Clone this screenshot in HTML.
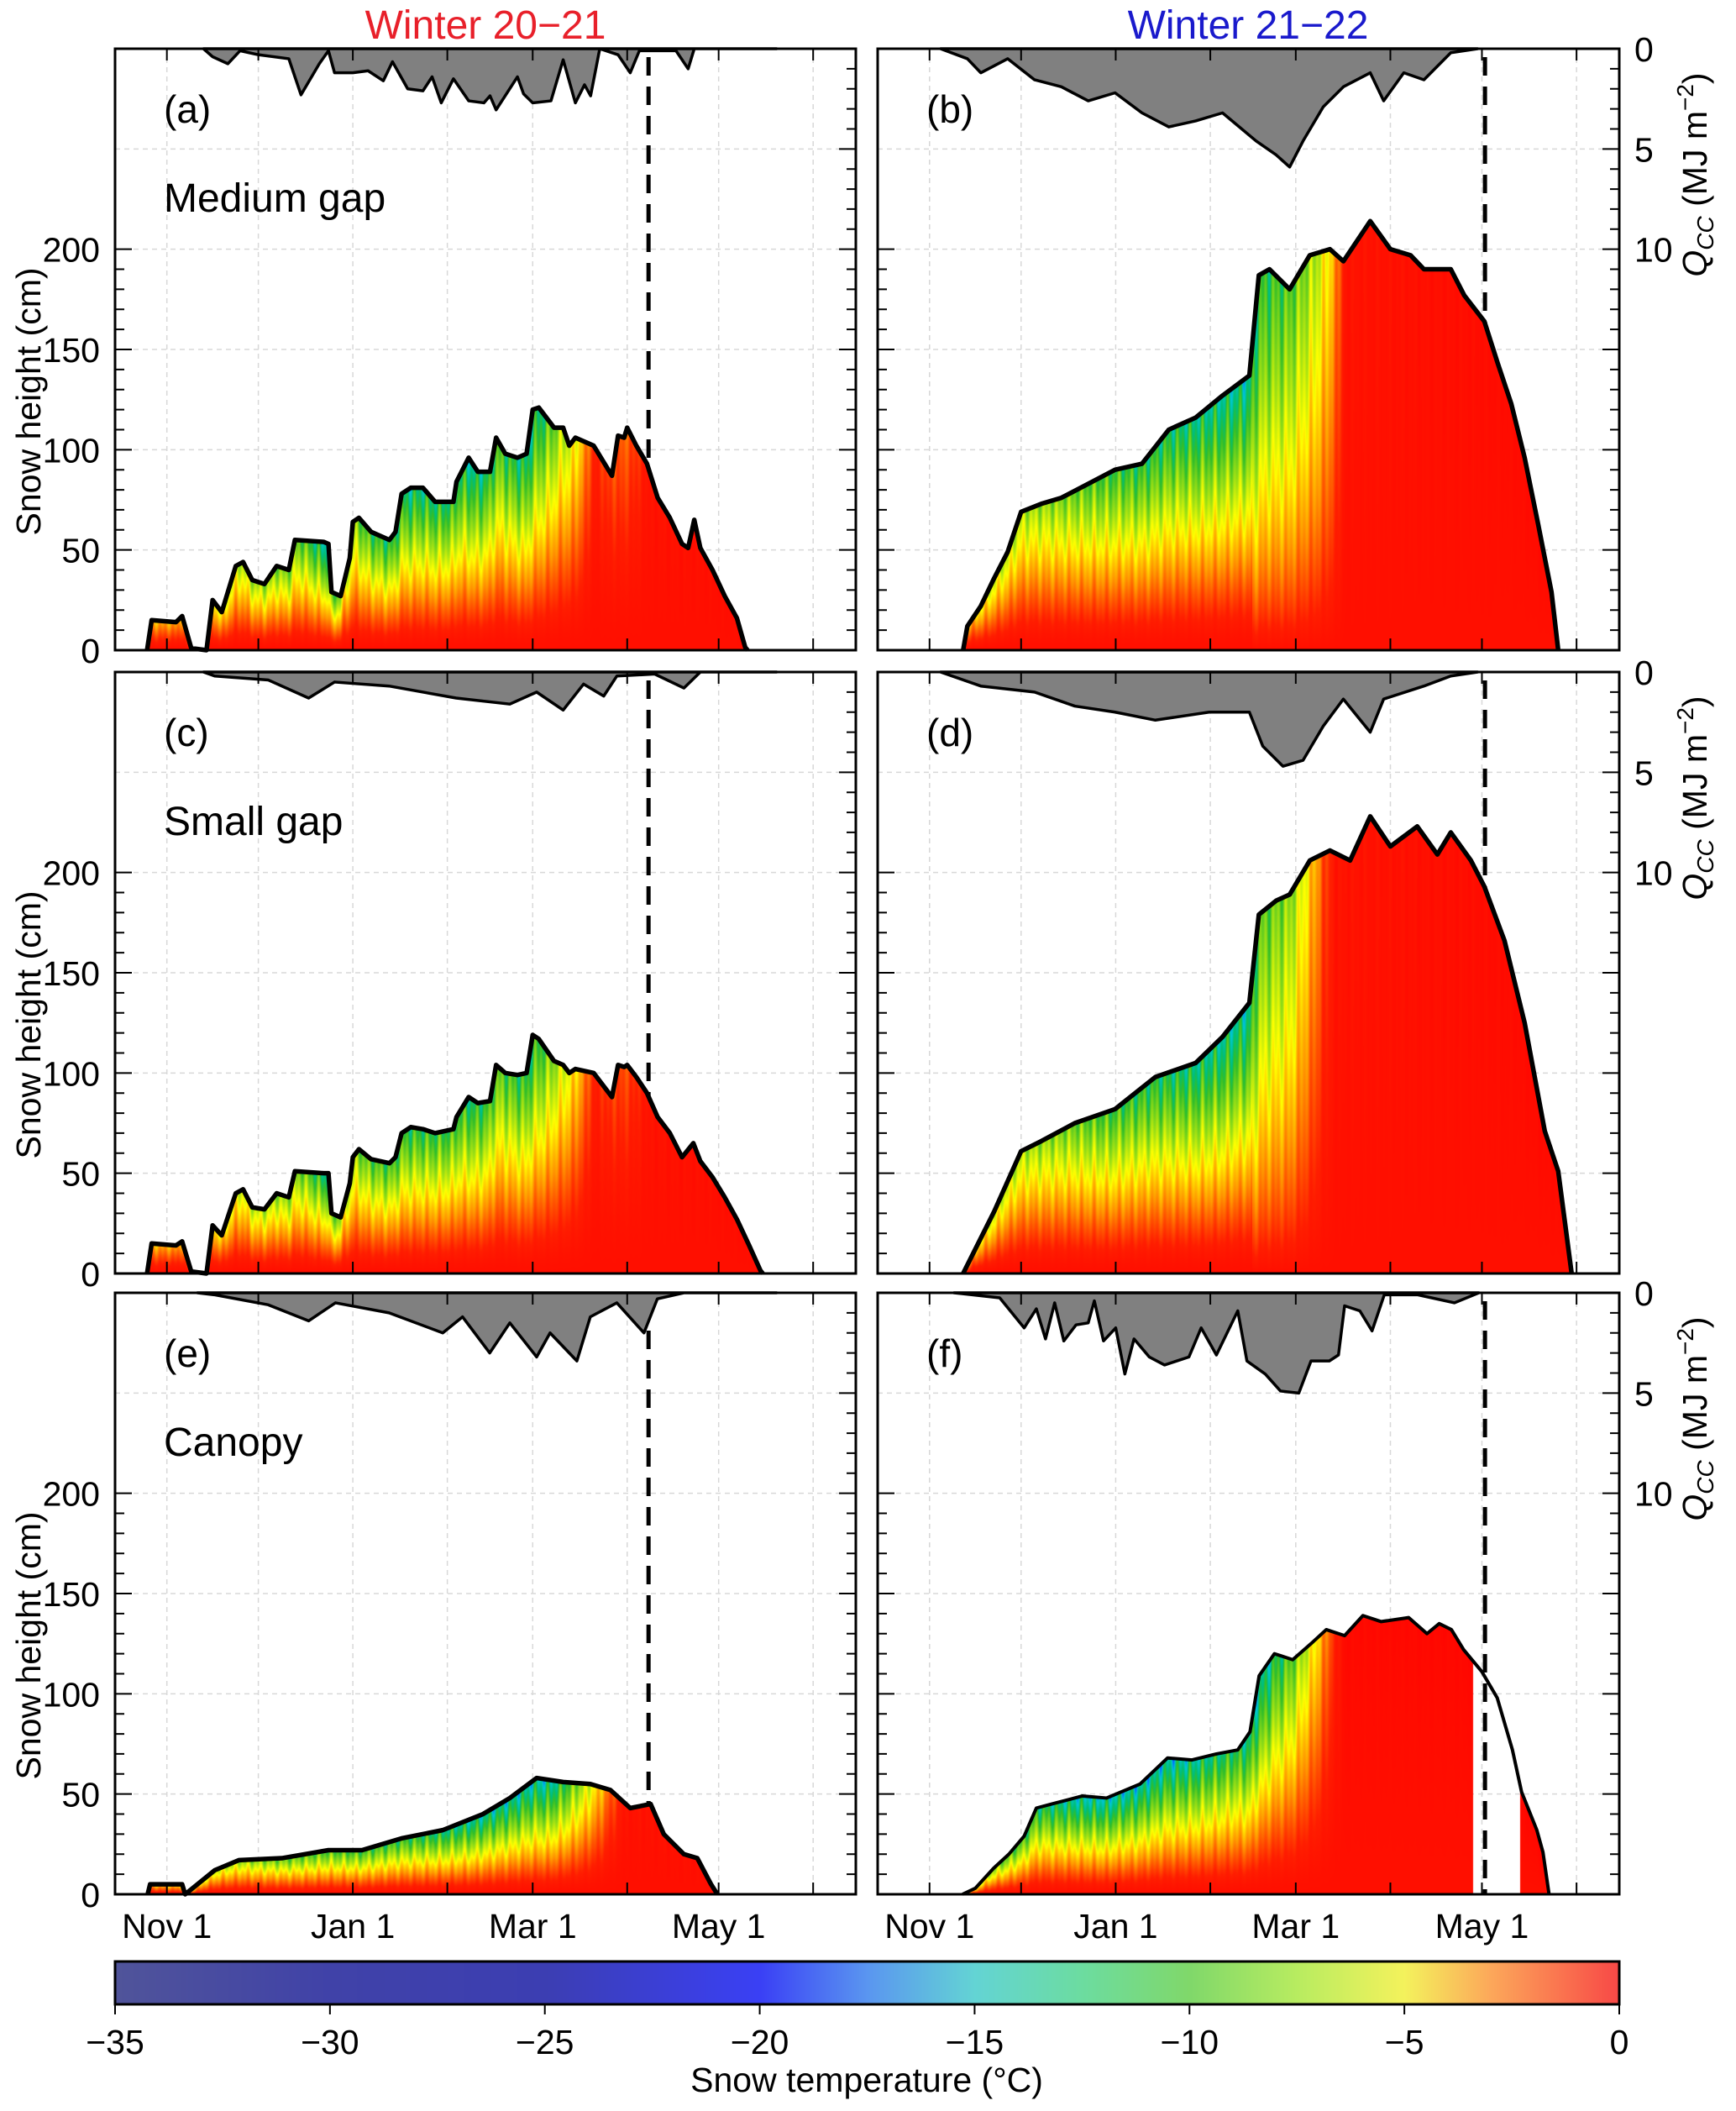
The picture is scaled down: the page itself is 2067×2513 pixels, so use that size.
<!DOCTYPE html>
<html><head><meta charset="utf-8">
<style>
html,body{margin:0;padding:0;background:#fff;}
#root{position:relative;width:2067px;height:2513px;overflow:hidden;font-family:"Liberation Sans",sans-serif;}
svg,canvas{position:absolute;left:0;top:0;}
</style></head>
<body>
<div id="root">
<svg id="under" width="2067" height="2513"></svg>
<canvas id="cv" width="2067" height="2513"></canvas>
<svg id="over" width="2067" height="2513"></svg>
</div>
<script>
// ---------- DATA ----------
const snowDaysA=[-6.5,-5,3,5,8,13,15,18,22.6,25,28,32,36,40,42,51.5,53,54,57,60,61,63,67,73,75,77,80,84,88,94,95,99,102,106,108,111,115,118,120,122,127,130,132,134,140,146,148,150,151,154,157.5,161,165,169,171,173,175,179,183,187,189.7,190.5];
const snowHA=[0,15,14,17,1,0,25,19,42,44,35,33,42,40,55,54,53,29,27,46,64,66,59,55,59,78,81,81,74,74,84,96,89,89,106,98,96,98,120,121,111,111,102,106,102,87,107,106,111,102,93,76,66,53,51,65,51,40,27,16,1.5,0];
const qDaysA=[12,15,20,24,30,40,44,50,53,55,61,66,71,74,79,84,87,90,94,99,104,106,108,115,117,120,126,130,134,137,139,142,148,152,155,167,171,173,200];
const qA=[0,0.4,0.75,0.1,0.3,0.5,2.3,0.75,0.1,1.2,1.2,1.1,1.6,0.65,2.0,2.1,1.4,2.7,1.5,2.6,2.7,2.35,3.05,1.4,2.25,2.7,2.6,0.55,2.7,1.8,2.35,0,0.3,1.2,0.1,0.1,1.0,0,0];
const tDaysA=[-6,10,20,45,52,58,65,80,95,100,110,120,128,135,140,150,158,200];
const tSurfA=[-5,-4,-8,-12,-18,-8,-13,-16,-14,-17,-13,-17,-10,-6,-1.5,-3,-1,-0.5];

const snowDaysB=[11,12.4,16.8,21.2,25.6,30,36.6,43.2,52,60.8,69.6,78.4,87.2,96,104.8,107.9,111.4,118,124.6,131.2,135.6,144.4,151,157.6,162,170.8,175.2,181.8,186.2,190.6,195,199.4,203.8,206];
const snowHB=[0,12,22,36,49,69,73,76,83,90,93,110,116,127,137,187,190,180,197,200,194,214,200,197,190,190,177,164,143,123,96,63,29,0];
const qDaysB=[3.6,12.4,16.8,25.6,34.4,43.2,52,60.8,69.6,78.4,87.2,96,107,113.6,118,122.4,129,135.6,144.4,148.8,155.4,162,170.8,179.6];
const qB=[0,0.5,1.2,0.5,1.55,1.9,2.6,2.2,3.2,3.9,3.6,3.2,4.6,5.3,5.9,4.6,2.9,1.9,1.2,2.6,1.2,1.55,0.2,0];
const tDaysB=[11,20,40,60,90,105,108,118,126,132,136,200];
const tSurfB=[-4,-8,-10,-13,-16,-17,-14,-12,-9,-5,-1,-0.5];

const snowDaysC=[-6.5,-5,3,5,8,13,15,18,22.6,25,28,32,36,40,42,51.5,53,54,57,60,61,63,67,73,75,77,80,84,88,94,95,99,102,106,108,111,115,118,120,122,127,130,132,134,140,146,148,150,151,154,157.5,161,165,169,172.7,175,179,183,187,191,194.7,195.5];
const snowHC=[0,15,14,16,1,0,24,19,40,42,33,32,40,38,51,50,50,30,28,45,58,62,57,55,58,70,73,72,70,72,78,88,85,86,104,100,99,100,119,117,106,104,100,102,100,88,104,103,104,98,90,78,70,58,65,56,48,38,27,14,1.5,0];
const qDaysC=[12,15.7,33.3,46.5,55,72.9,94.9,112.5,121.3,130,136.7,143.3,147.6,160,169.6,175,200];
const qC=[0,0.2,0.4,1.3,0.5,0.7,1.3,1.6,1.0,1.9,0.6,1.2,0.2,0.1,0.8,0,0];
const tDaysC=[-6,10,20,45,52,58,65,80,95,100,110,120,128,135,140,150,158,200];
const tSurfC=[-5,-4,-7,-11,-16,-8,-12,-14,-13,-15,-12,-15,-9,-5,-1.5,-2.5,-1,-0.5];

const snowDaysD=[11,21.2,30,36.6,47.6,60.8,74,87.2,96,104.8,107.9,113.6,118,124.6,131.2,137.8,144.4,151,159.8,166.4,170.8,177.4,181.8,188.4,195,201.6,206,210.4];
const snowHD=[0,31,61,66,75,82,98,105,118,135,179,186,189,206,211,206,228,213,223,209,220,206,193,166,125,71,51,0];
const qDaysD=[3.6,16.8,34.4,47.6,60.8,74,91.6,104.8,109.2,115.8,122.4,129,135.6,144.4,148.8,162,170.8,179.6];
const qD=[0,0.7,1,1.7,2,2.4,2,2,3.7,4.7,4.4,2.7,1.35,3.0,1.35,0.7,0.2,0];
const tDaysD=[11,20,40,60,90,105,108,118,124,129,133,200];
const tSurfD=[-4,-8,-10,-13,-16,-17,-12,-10,-6,-2.5,-1,-0.5];

const snowDaysE=[-6.3,-5.5,5,6,15.7,23.6,37.7,53,64,77.3,90.5,103.7,112.5,121.3,130,138.9,145.5,152,158.7,163,169.6,174,178.5,180.6];
const snowHE=[0,5,5,0,12,17,18,22,22,28,32,40,48,58,56,55,52,43,45,30,20,18,5,0];
const qDaysE=[10,15.7,33.3,46.5,55.3,72.9,90.5,97,105.9,112.5,121.3,125.7,134.5,138.9,147.6,156.5,160.9,169.6,200];
const qE=[0,0.1,0.6,1.4,0.5,1.0,2.0,1.2,3.0,1.5,3.2,2.0,3.4,1.2,0.5,2.0,0.3,0,0];
const tDaysE=[-6,15,40,80,100,125,135,145,150,200];
const tSurfE=[-5,-8,-12,-14,-17,-18,-10,-3,-1,-0.5];

const snowDaysF=[10.8,15,21,26,31,35,40,50,58,69,78,86,94,101,105,108,113,119,125,130,136,142,148,157,163,167,171,175,181,186,191,194,199,201,203];
const snowHF=[0,3,13,20,29,43,45,49,48,55,68,67,70,72,81,109,120,117,125,132,129,139,136,138,130,135,132,122,111,98,72,51,32,21,0];
const qDaysF=[8,23,31,35,38,41,44,48,52,54,57,61,64,67,72,77,85,89,94,101,104,110,115,121,125,131,134,136,141,145,149,160,172,180];
const qF=[0,0.25,1.75,0.8,2.3,0.5,2.4,1.6,1.5,0.4,2.4,1.75,4.05,2.3,3.2,3.6,3.2,1.75,3.1,0.9,3.4,4.05,4.9,5.0,3.4,3.4,3.1,0.65,0.9,1.9,0.1,0.1,0.5,0];
const tDaysF=[10,25,50,80,100,108,118,125,132,136,210];
const tSurfF=[-5,-12,-18,-18,-14,-18,-12,-7,-2,-0.5,-0.3];
const gapF=[178,193.5];

const monthDays=[0,30,61,92,120,151,181,212];
const monthLabels=["Nov 1","","Jan 1","","Mar 1","","May 1",""];
const cbTicks=[-35,-30,-25,-20,-15,-10,-5,0];

// ---------- LAYOUT ----------
const NS="http://www.w3.org/2000/svg";
const colsX=[137,1045], plotW=[882,883];
const rowsY=[58,800,1539], plotH=716;
const D0=-17, D1=226, CMMAX=300;
const panels=[
 {id:"a",c:0,r:0,sd:snowDaysA,sh:snowHA,qd:qDaysA,q:qA,td:tDaysA,ts:tSurfA,dash:158,name:"Medium gap"},
 {id:"b",c:1,r:0,sd:snowDaysB,sh:snowHB,qd:qDaysB,q:qB,td:tDaysB,ts:tSurfB,dash:182},
 {id:"c",c:0,r:1,sd:snowDaysC,sh:snowHC,qd:qDaysC,q:qC,td:tDaysC,ts:tSurfC,dash:158,name:"Small gap"},
 {id:"d",c:1,r:1,sd:snowDaysD,sh:snowHD,qd:qDaysD,q:qD,td:tDaysD,ts:tSurfD,dash:182},
 {id:"e",c:0,r:2,sd:snowDaysE,sh:snowHE,qd:qDaysE,q:qE,td:tDaysE,ts:tSurfE,dash:158,name:"Canopy"},
 {id:"f",c:1,r:2,sd:snowDaysF,sh:snowHF,qd:qDaysF,q:qF,td:tDaysF,ts:tSurfF,dash:182,gap:gapF}
];
function xS(p,d){return colsX[p.c]+(d-D0)/(D1-D0)*plotW[p.c];}
function dInv(p,x){return D0+(x-colsX[p.c])/plotW[p.c]*(D1-D0);}
function yS(p,cm){return rowsY[p.r]+plotH-cm/CMMAX*plotH;}
function yQ(p,mj){return rowsY[p.r]+mj*(plotH*100/CMMAX)/10;}
function interp(xs,ys,x){if(x<=xs[0])return x<xs[0]?null:ys[0];if(x>=xs[xs.length-1])return x>xs[xs.length-1]?null:ys[ys.length-1];
 for(let i=1;i<xs.length;i++){if(x<=xs[i]){const t=(x-xs[i-1])/(xs[i]-xs[i-1]);return ys[i-1]+t*(ys[i]-ys[i-1]);}}return null;}
function interpC(xs,ys,x){if(x<=xs[0])return ys[0];if(x>=xs[xs.length-1])return ys[ys.length-1];return interp(xs,ys,x);}

const under=document.getElementById("under"), over=document.getElementById("over");
function mk(parent,tag,attrs,txt){const e=document.createElementNS(NS,tag);for(const k in attrs)e.setAttribute(k,attrs[k]);if(txt!==undefined)e.textContent=txt;parent.appendChild(e);return e;}

// ---------- colormaps ----------
const plotStops=[[-35,[60,60,150]],[-25,[30,30,200]],[-20,[0,0,255]],[-17,[0,110,255]],[-15,[0,200,210]],[-12,[0,190,120]],[-10,[50,190,40]],[-7,[160,225,20]],[-5,[255,255,0]],[-3,[255,150,0]],[-1.2,[255,30,0]],[0,[255,0,0]]];
const cbStops=[[-35,[80,84,154]],[-30,[64,66,168]],[-25,[60,62,178]],[-20,[58,64,245]],[-17.5,[90,150,240]],[-15,[99,212,212]],[-12.5,[108,220,160]],[-10,[128,216,106]],[-7.5,[184,236,96]],[-5,[244,242,92]],[-3,[252,168,90]],[0,[248,72,70]]];
function cmap(st,t){if(t<=st[0][0])return st[0][1];if(t>=st[st.length-1][0])return st[st.length-1][1];
 for(let i=1;i<st.length;i++){if(t<=st[i][0]){const a=st[i-1],b=st[i],f=(t-a[0])/(b[0]-a[0]);return [0,1,2].map(k=>Math.round(a[1][k]+f*(b[1][k]-a[1][k])));}}}

// ---------- under layer: grid + dashed ----------
panels.forEach(p=>{
 const g=mk(under,"g",{});
 
 
 const x0=colsX[p.c],x1=x0+plotW[p.c],y0=rowsY[p.r],y1=y0+plotH;
 monthDays.forEach(d=>{const x=xS(p,d);const l=mk(g,"line",{x1:x,x2:x,y1:y0,y2:y1,stroke:"#d8d8d8","stroke-width":1.5,"stroke-dasharray":"6,5"});
  });
 [50,100,150,200,250].forEach(cm=>{const y=yS(p,cm);const l=mk(g,"line",{x1:x0,x2:x1,y1:y,y2:y,stroke:"#d8d8d8","stroke-width":1.5,"stroke-dasharray":"6,5"});
  });
 const xd=xS(p,p.dash);
 const dl=mk(g,"line",{x1:xd,x2:xd,y1:y0+10,y2:y1,stroke:"#000","stroke-width":5,"stroke-dasharray":"22,13"});
 
});

// ---------- canvas field ----------
const cv=document.getElementById("cv"),ctx=cv.getContext("2d");
const img=ctx.createImageData(2067,2513),px=img.data;
panels.forEach(p=>{
 const x0=Math.round(colsX[p.c]),x1=Math.round(colsX[p.c]+plotW[p.c]);
 const base=rowsY[p.r]+plotH;
 for(let x=x0;x<x1;x++){
  const d=dInv(p,x+0.5);
  if(p.gap&&d>=p.gap[0]&&d<=p.gap[1])continue;
  const h=interp(p.sd,p.sh,d);if(h===null||h<=0)continue;
  let ts=interpC(p.td,p.ts,d);
  const tex=0.78+0.22*Math.sin(d*2.3)*Math.sin(d*0.71+1);
  ts*=tex;
  const yTop=yS(p,h);
  const pw=h>150?1.0:1.5;
  for(let y=Math.ceil(yTop);y<base;y++){
   const r=(base-y)/(base-yTop);
   const T=-0.6+(ts+0.6)*Math.pow(r,pw);
   const c=cmap(plotStops,T);
   const i=(y*2067+x)*4;px[i]=c[0];px[i+1]=c[1];px[i+2]=c[2];px[i+3]=255;
  }
 }
});
// colorbar
const cbX0=137,cbX1=1928,cbY0=2335,cbY1=2386;
for(let x=cbX0;x<cbX1;x++){const T=-35+(x-cbX0)/(cbX1-cbX0)*35;const c=cmap(cbStops,T);
 for(let y=cbY0;y<cbY1;y++){const i=(y*2067+x)*4;px[i]=c[0];px[i+1]=c[1];px[i+2]=c[2];px[i+3]=255;}}
ctx.putImageData(img,0,0);

// ---------- over layer ----------
function txt(parent,x,y,s,opts,name){const t=mk(parent,"text",Object.assign({x:x,y:y,"font-size":40,"font-family":"Liberation Sans, sans-serif",fill:"#000"},opts||{}),s);
 return t;}

panels.forEach(p=>{
 const g=mk(over,"g",{});
 
 
 const x0=colsX[p.c],x1=x0+plotW[p.c],y0=rowsY[p.r],y1=y0+plotH;
 let pts=[[xS(p,p.qd[0]),y0]];
 for(let i=0;i<p.qd.length;i++)pts.push([xS(p,p.qd[i]),yQ(p,p.q[i])]);
 pts.push([xS(p,p.qd[p.qd.length-1]),y0]);
 const qa=mk(g,"polygon",{points:pts.map(a=>a.join(",")).join(" "),fill:"#808080",stroke:"#000","stroke-width":3.5,"stroke-linejoin":"round"});
 
 const sp=p.sd.map((d,i)=>xS(p,d)+","+yS(p,p.sh[i])).join(" ");
 const sl=mk(g,"polyline",{points:sp,fill:"none",stroke:"#000","stroke-width":p.c===1&&p.r===2?4:5.5,"stroke-linejoin":"round"});
 
 const fr=mk(g,"rect",{x:x0,y:y0,width:plotW[p.c],height:plotH,fill:"none",stroke:"#000","stroke-width":3});
 
 let tk="";
 monthDays.forEach(d=>{const x=xS(p,d);tk+=`M${x},${y1}v-14M${x},${y0}v14`;});
 for(let cm=0;cm<=200;cm+=10){const y=yS(p,cm);const L=cm%50===0?20:11;tk+=`M${x0},${y}h${L}M${x1},${y}h-${L}`;}
 for(let mj=0;mj<=10;mj++){const y=yQ(p,mj);const L=mj%5===0?20:11;tk+=`M${x1},${y}h-${L}`;}
 const tp=mk(g,"path",{d:tk,stroke:"#000","stroke-width":2,fill:"none"});
 
 txt(g,x0+58,y0+88,"("+p.id+")",{"font-size":46},"panel-label");
 if(p.name)txt(g,x0+58,y0+194,p.name,{"font-size":48},"site-label");
 if(p.c===0){
  [0,50,100,150,200].forEach(cm=>txt(g,x0-18,yS(p,cm)+15,String(cm),{"text-anchor":"end","font-size":41},"y-tick-label"));
  txt(g,0,0,"Snow height (cm)",{"text-anchor":"middle","font-size":41,transform:`translate(48,${y0+420}) rotate(-90)`},"y-axis-title");
 } else {
  [0,5,10].forEach(mj=>txt(g,x1+18,yQ(p,mj)+15,String(mj),{"font-size":41},"qcc-tick-label"));
  const t=txt(g,0,0,"",{"text-anchor":"middle","font-size":41,transform:`translate(2032,${y0+150}) rotate(-90)`},"qcc-axis-title");
  mk(t,"tspan",{"font-style":"italic"},"Q");
  mk(t,"tspan",{"font-style":"italic","font-size":28,dy:8},"CC");
  mk(t,"tspan",{dy:-8}," (MJ m");
  mk(t,"tspan",{"font-size":28,dy:-16},"−2");
  mk(t,"tspan",{dy:16},")");
 }
 if(p.r===2){
  monthDays.forEach((d,i)=>{if(monthLabels[i])txt(g,xS(p,d),2307,monthLabels[i],{"text-anchor":"middle","font-size":41},"x-tick-label");});
 }
});
txt(over,578,46,"Winter 20−21",{"text-anchor":"middle","font-size":48,fill:"#e8202a"},"column-title-winter-20-21");
txt(over,1486,46,"Winter 21−22",{"text-anchor":"middle","font-size":48,fill:"#1a1acc"},"column-title-winter-21-22");
const cb=mk(over,"rect",{x:cbX0,y:cbY0,width:cbX1-cbX0,height:cbY1-cbY0,fill:"none",stroke:"#000","stroke-width":3});

cbTicks.forEach(v=>{const x=cbX0+(v+35)/35*(cbX1-cbX0);
 const l=mk(over,"line",{x1:x,x2:x,y1:cbY1,y2:cbY1+12,stroke:"#000","stroke-width":2});
 
 txt(over,x,2445,(v<0?"−":"")+Math.abs(v),{"text-anchor":"middle","font-size":41},"colorbar-tick-label");});
txt(over,1032,2490,"Snow temperature (°C)",{"text-anchor":"middle","font-size":41},"colorbar-title");
</script>
</body></html>
